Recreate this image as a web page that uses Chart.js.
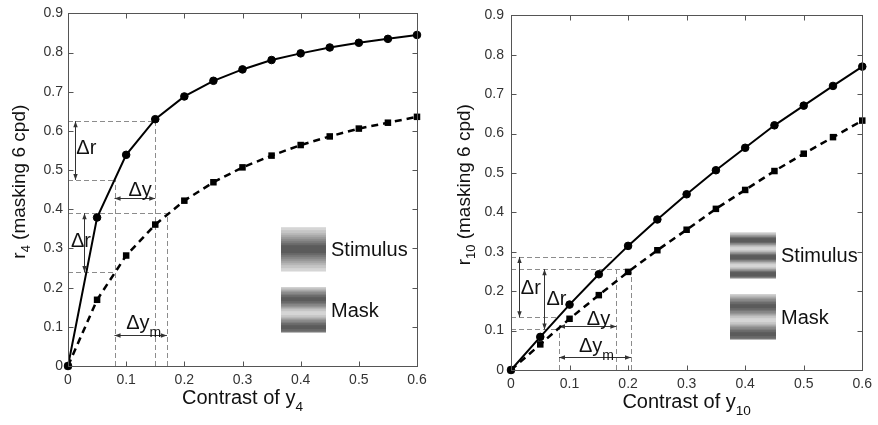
<!DOCTYPE html>
<html>
<head>
<meta charset="utf-8">
<script src="https://cdn.jsdelivr.net/npm/chart.js@4.4.1/dist/chart.umd.min.js"></script>
<style>
  html, body { margin: 0; padding: 0; background: #fff; }
  #wrap { position: relative; width: 878px; height: 425px; overflow: hidden; }
  #left { position: absolute; left: 0; top: 0; }
  #right { position: absolute; left: 440px; top: 0; }
</style>
</head>
<body>
<div id="wrap">
  <canvas id="left" width="440" height="425"></canvas>
  <canvas id="right" width="438" height="425"></canvas>
</div>
<script>
// contrast values along the x axis
const contrast = [0, 0.05, 0.1, 0.15, 0.2, 0.25, 0.3, 0.35, 0.4, 0.45, 0.5, 0.55, 0.6];

// left panel: r4, stimulus alone (solid) and with mask (dashed)
const r4Stimulus = [0, 0.379, 0.539, 0.630, 0.688, 0.728, 0.757, 0.781, 0.798, 0.813, 0.825, 0.835, 0.845];
const r4Masked   = [0, 0.169, 0.282, 0.361, 0.422, 0.469, 0.507, 0.537, 0.564, 0.586, 0.606, 0.621, 0.636];

// right panel: r10
const r10Stimulus = [0, 0.084, 0.166, 0.243, 0.315, 0.382, 0.446, 0.507, 0.564, 0.621, 0.671, 0.721, 0.770];
const r10Masked   = [0, 0.065, 0.130, 0.190, 0.249, 0.304, 0.356, 0.409, 0.457, 0.505, 0.549, 0.591, 0.633];

const xTicks = [0, 0.1, 0.2, 0.3, 0.4, 0.5, 0.6];
const yTicks = [0, 0.1, 0.2, 0.3, 0.4, 0.5, 0.6, 0.7, 0.8, 0.9];

// annotation guides in data units: [x1, y1, x2, y2]
const leftGuides = [
  [0, 0.625, 0.15, 0.625], [0, 0.475, 0.08, 0.475], [0, 0.39, 0.17, 0.39], [0, 0.24, 0.08, 0.24],
  [0.08, 0, 0.08, 0.475], [0.15, 0, 0.15, 0.625], [0.17, 0, 0.17, 0.39]
];
const leftArrows = [
  [0.0125, 0.625, 0.0125, 0.475], [0.027, 0.39, 0.027, 0.24],
  [0.08, 0.43, 0.15, 0.43], [0.08, 0.078, 0.17, 0.078]
];
const leftMarks = [
  { x: 0.0143, y: 0.559, t: '\u0394r' }, { x: 0.005, y: 0.321, t: '\u0394r' },
  { x: 0.104, y: 0.451, t: '\u0394y' }, { x: 0.100, y: 0.113, t: '\u0394y', sub: 'm' }
];

const rightGuides = [
  [0, 0.287, 0.18, 0.287], [0, 0.256, 0.205, 0.256], [0, 0.134, 0.08, 0.134], [0, 0.103, 0.08, 0.103],
  [0.082, 0, 0.082, 0.12], [0.18, 0, 0.18, 0.256], [0.205, 0, 0.205, 0.25]
];
const rightArrows = [
  [0.013, 0.287, 0.013, 0.134], [0.056, 0.256, 0.056, 0.103],
  [0.082, 0.111, 0.18, 0.111], [0.082, 0.033, 0.205, 0.033]
];
const rightMarks = [
  { x: 0.0168, y: 0.210, t: '\u0394r' }, { x: 0.0606, y: 0.182, t: '\u0394r' },
  { x: 0.1295, y: 0.133, t: '\u0394y' }, { x: 0.116, y: 0.063, t: '\u0394y', sub: 'm' }
];

const FONT = '"Liberation Sans", Arial, Helvetica, sans-serif';

function drawParts(ctx, parts, x, y, size) {
  // parts drawn left to right, centred on x, baseline y
  let total = 0;
  parts.forEach(p => {
    ctx.font = (p.sub ? size * 0.68 : size) + 'px ' + FONT;
    total += ctx.measureText(p.t).width;
  });
  let cx = x - total / 2;
  parts.forEach(p => {
    ctx.font = (p.sub ? size * 0.68 : size) + 'px ' + FONT;
    ctx.fillText(p.t, cx, p.sub ? y + size * 0.35 : y);
    cx += ctx.measureText(p.t).width;
  });
}

function grating(ctx, x0, y0, w, h, period, darkAt) {
  for (let i = 0; i < h; i++) {
    let g = 118 - 80 * Math.cos(2 * Math.PI * (i + 0.5 - darkAt) / period);
    g = Math.round(g / 20) * 20;
    ctx.fillStyle = 'rgb(' + g + ',' + g + ',' + g + ')';
    ctx.fillRect(x0, y0 + i, w, 1);
  }
}

function arrowHead(ctx, x, y, dx, dy) {
  const len = 6, hw = 2.2;
  ctx.beginPath();
  ctx.moveTo(x, y);
  ctx.lineTo(x - dx * len - dy * hw, y - dy * len + dx * hw);
  ctx.lineTo(x - dx * len + dy * hw, y - dy * len - dx * hw);
  ctx.closePath();
  ctx.fill();
}

function panelPlugin(p) {
  return {
    id: 'panel' + p.name,
    beforeDatasetsDraw(chart) {
      const { ctx, scales: { x, y } } = chart;
      ctx.save();
      ctx.strokeStyle = '#8c8c8c';
      ctx.lineWidth = 1;
      ctx.setLineDash([5, 3]);
      p.guides.forEach(g => {
        let x1 = x.getPixelForValue(g[0]), y1 = y.getPixelForValue(g[1]);
        let x2 = x.getPixelForValue(g[2]), y2 = y.getPixelForValue(g[3]);
        if (g[0] === g[2]) { x1 = x2 = Math.round(x1) + 0.5; }
        if (g[1] === g[3]) { y1 = y2 = Math.round(y1) + 0.5; }
        ctx.beginPath(); ctx.moveTo(x1, y1); ctx.lineTo(x2, y2); ctx.stroke();
      });
      ctx.setLineDash([]);
      ctx.strokeStyle = '#333';
      ctx.fillStyle = '#333';
      p.arrows.forEach(a => {
        let x1 = x.getPixelForValue(a[0]), y1 = y.getPixelForValue(a[1]);
        let x2 = x.getPixelForValue(a[2]), y2 = y.getPixelForValue(a[3]);
        if (a[0] === a[2]) { x1 = x2 = Math.round(x1) + 0.5; }
        if (a[1] === a[3]) { y1 = y2 = Math.round(y1) + 0.5; }
        ctx.beginPath(); ctx.moveTo(x1, y1); ctx.lineTo(x2, y2); ctx.stroke();
        const L = Math.hypot(x2 - x1, y2 - y1), dx = (x2 - x1) / L, dy = (y2 - y1) / L;
        arrowHead(ctx, x2, y2, dx, dy);
        arrowHead(ctx, x1, y1, -dx, -dy);
      });
      ctx.restore();
    },
    afterDraw(chart) {
      const { ctx, chartArea: a, scales: { x, y } } = chart;
      ctx.save();
      // box and inward ticks
      ctx.strokeStyle = '#555';
      ctx.lineWidth = 1;
      const L = Math.round(a.left) + 0.5, R = Math.round(a.right) + 0.5;
      const T = Math.round(a.top) + 0.5, B = Math.round(a.bottom) + 0.5;
      ctx.strokeRect(L, T, R - L, B - T);
      ctx.beginPath();
      xTicks.forEach(v => {
        const px = Math.round(x.getPixelForValue(v)) + 0.5;
        ctx.moveTo(px, B); ctx.lineTo(px, B - 5);
        ctx.moveTo(px, T); ctx.lineTo(px, T + 5);
      });
      yTicks.forEach(v => {
        const py = Math.round(y.getPixelForValue(v)) + 0.5;
        ctx.moveTo(L, py); ctx.lineTo(L + 5, py);
        ctx.moveTo(R, py); ctx.lineTo(R - 5, py);
      });
      ctx.stroke();

      // delta labels
      ctx.fillStyle = '#111';
      ctx.textAlign = 'left';
      ctx.textBaseline = 'alphabetic';
      p.marks.forEach(m => {
        const px = x.getPixelForValue(m.x), py = y.getPixelForValue(m.y) + 7;
        ctx.font = '20px ' + FONT;
        ctx.fillText(m.t, px, py);
        if (m.sub) {
          const w = ctx.measureText(m.t).width;
          ctx.font = '14px ' + FONT;
          ctx.fillText(m.sub, px + w, py + 8);
        }
      });

      // legend patches
      p.patches.forEach(q => {
        grating(ctx, a.left + q.dx, a.top + q.dy, q.w, q.h, q.period, q.darkAt);
        ctx.fillStyle = '#111';
        ctx.font = '20px ' + FONT;
        ctx.fillText(q.label, a.left + q.dx + q.w + 5, a.top + q.dy + q.h / 2 + 7);
      });

      // axis titles with subscripts
      ctx.fillStyle = '#111';
      drawParts(ctx, [{ t: 'Contrast of y' }, { t: p.sub, sub: true }], (a.left + a.right) / 2, a.bottom + 38, 20);
      ctx.translate(p.yTitleX, (a.top + a.bottom) / 2 - 8);
      ctx.rotate(-Math.PI / 2);
      ctx.textBaseline = 'middle';
      drawParts(ctx, [{ t: 'r' }, { t: p.sub, sub: true }, { t: ' (masking 6 cpd)' }], 0, 0, 19);
      ctx.restore();
    }
  };
}

function makePanel(id, p) {
  return new Chart(id, {
    type: 'line',
    data: {
      datasets: [{
        data: contrast.map((c, i) => ({ x: c, y: p.solid[i] })),
        borderColor: '#000',
        backgroundColor: '#000',
        borderWidth: 2,
        pointStyle: 'circle',
        pointRadius: 3.8,
        pointBorderWidth: 1,
        tension: 0,
        clip: false
      }, {
        data: contrast.map((c, i) => ({ x: c, y: p.dashed[i] })),
        borderColor: '#000',
        backgroundColor: '#000',
        borderWidth: 2.5,
        borderDash: [7, 5],
        pointStyle: 'rect',
        pointRadius: 4.6,
        pointBorderWidth: 0,
        tension: 0,
        clip: false
      }]
    },
    options: {
      responsive: false,
      animation: false,
      events: [],
      layout: { padding: { left: 0, right: p.padRight, top: 12, bottom: 0 } },
      plugins: { legend: { display: false }, tooltip: { enabled: false } },
      scales: {
        x: {
          type: 'linear',
          min: 0,
          max: 0.6,
          grid: { display: false, drawTicks: false },
          border: { display: false },
          afterBuildTicks: s => { s.ticks = xTicks.map(v => ({ value: v })); },
          afterFit: s => { s.height = p.xHeight; },
          ticks: {
            padding: 6,
            maxRotation: 0,
            autoSkip: false,
            color: '#333',
            font: { family: FONT, size: 14 },
            callback: v => String(v)
          }
        },
        y: {
          type: 'linear',
          min: 0,
          max: 0.9,
          grid: { display: false, drawTicks: false },
          border: { display: false },
          afterBuildTicks: s => { s.ticks = yTicks.map(v => ({ value: v })); },
          afterFit: s => { s.width = p.yWidth; },
          ticks: {
            padding: p.yPad,
            autoSkip: false,
            color: '#333',
            font: { family: FONT, size: 14 },
            callback: v => String(v)
          }
        }
      }
    },
    plugins: [panelPlugin(p)]
  });
}

makePanel('left', {
  name: 'L', solid: r4Stimulus, dashed: r4Masked, sub: '4',
  yWidth: 68, padRight: 23, xHeight: 59, yPad: 5, yTitleX: 20,
  guides: leftGuides, arrows: leftArrows, marks: leftMarks,
  patches: [
    { label: 'Stimulus', dx: 213, dy: 214, w: 45, h: 44, period: 44, darkAt: 22 },
    { label: 'Mask', dx: 213, dy: 274, w: 45, h: 45, period: 28, darkAt: 12 }
  ]
});

makePanel('right', {
  name: 'R', solid: r10Stimulus, dashed: r10Masked, sub: '10',
  yWidth: 71, padRight: 10, xHeight: 55, yPad: 7, yTitleX: 25,
  guides: rightGuides, arrows: rightArrows, marks: rightMarks,
  patches: [
    { label: 'Stimulus', dx: 219, dy: 217, w: 46, h: 46, period: 17, darkAt: 8 },
    { label: 'Mask', dx: 219, dy: 279, w: 46, h: 45, period: 28, darkAt: 12 }
  ]
});
</script>
</body>
</html>
